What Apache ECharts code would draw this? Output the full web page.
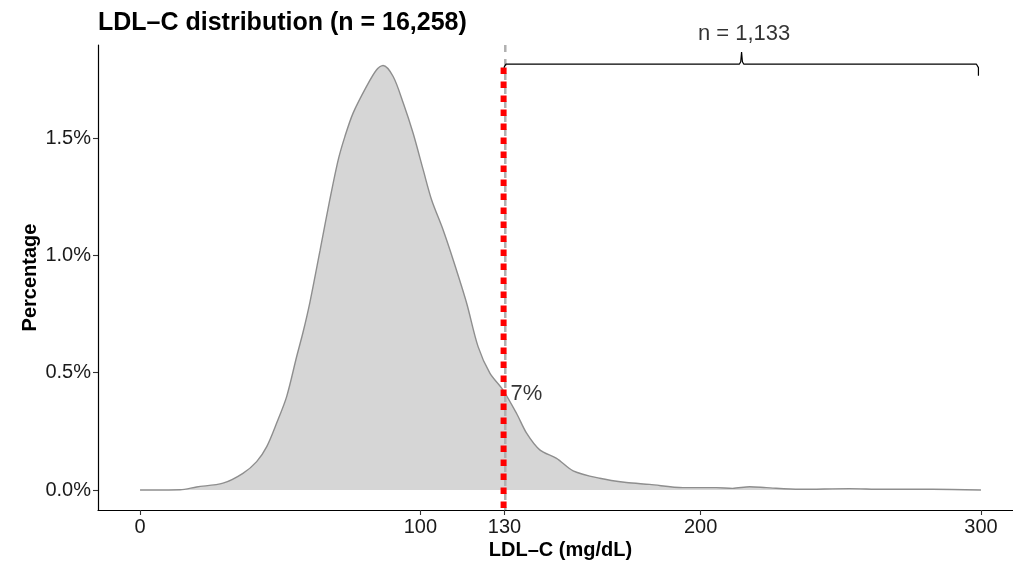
<!DOCTYPE html>
<html>
<head>
<meta charset="utf-8">
<script src="https://cdn.jsdelivr.net/npm/echarts@6/dist/echarts.min.js"></script>
<style>
html,body{margin:0;padding:0;background:#fff;}
#chart{width:1013px;height:567px;}
</style>
</head>
<body>
<div id="chart"></div>
<script>
// LDL-C values (mg/dL) and density (percentage)
const ldlValues = [0,14.3,20.2,29.6,36.7,41.6,45.2,48.7,52.3,55.9,58.1,60.6,64.2,67.7,70.7,73.1,76.0,80.8,84.4,86.7,90.3,93.9,97.4,101.0,104.0,108.1,111.7,116.5,120.6,124.8,129.5,134.3,137.9,142.6,148.6,154.5,164.0,173.5,181.8,193.7,205.6,211.4,217.5,223.4,235.3,253.1,264.9,282.7,300];
const densityPct = [0,0.001,0.013,0.029,0.071,0.121,0.185,0.284,0.398,0.57,0.67,0.80,1.02,1.237,1.407,1.507,1.606,1.72,1.791,1.809,1.762,1.649,1.521,1.365,1.237,1.109,0.981,0.797,0.611,0.498,0.426,0.327,0.242,0.171,0.135,0.082,0.050,0.032,0.024,0.010,0.010,0.007,0.014,0.010,0.003,0.006,0.003,0.003,0.0];
const xTicks = [0,100,130,200,300];
const yTicks = [0,0.5,1.0,1.5];
const cutoff = 130;
const peakPct = 1.80;
const aboveLabel = 'n = 1,133';
const aboveShare = '7%';
const titleText = 'LDL\u2013C distribution (n = 16,258)';
const xName = 'LDL\u2013C (mg/dL)';
const yName = 'Percentage';
// bracket over the range [cutoff, 300]
const bracketX = [129.8,130.5,213.8,214.3,214.6,214.9,215.4,298.4,299.1,299.1];
const bracketY = [1.800,1.8145,1.8145,1.825,1.866,1.825,1.8145,1.8145,1.800,1.765];

const X_MIN = -15, X_MAX = 315, Y_MIN = -0.0852, Y_MAX = 1.8963;
const FONT = '"Liberation Sans", Arial, Helvetica, sans-serif';

const chart = echarts.init(document.getElementById('chart'), null, {renderer:'canvas'});
const zip = (a,b) => a.map((v,i)=>[v,b[i]]);

chart.setOption({
  animation:false,
  backgroundColor:'#ffffff',
  textStyle:{fontFamily:FONT},
  title:{
    text:titleText, left:98, top:11, padding:0,
    textStyle:{fontFamily:FONT,fontSize:25,fontWeight:'bold',color:'#000'}
  },
  grid:{left:98,width:925,top:45,bottom:57,containLabel:false,outerBoundsMode:'none'},
  xAxis:{
    type:'value', min:X_MIN, max:X_MAX,
    name:xName, nameLocation:'middle', nameGap:30, nameMoveOverlap:false,
    nameTextStyle:{fontFamily:FONT,fontSize:20,fontWeight:'bold',color:'#000'},
    axisLine:{onZero:false,lineStyle:{color:'#000',width:1.2}},
    axisTick:{show:true,length:5,customValues:xTicks,lineStyle:{color:'#333',width:1.1}},
    axisLabel:{customValues:xTicks,fontSize:20,color:'#1a1a1a',margin:7,fontFamily:FONT},
    splitLine:{show:false}
  },
  yAxis:{
    type:'value', min:Y_MIN, max:Y_MAX,
    name:yName, nameLocation:'middle', nameGap:58, nameRotate:90, nameMoveOverlap:false,
    nameTextStyle:{fontFamily:FONT,fontSize:20,fontWeight:'bold',color:'#000'},
    axisLine:{onZero:false,lineStyle:{color:'#000',width:1.2}},
    axisTick:{show:true,length:5,customValues:yTicks,lineStyle:{color:'#333',width:1.1}},
    axisLabel:{customValues:yTicks,fontSize:20,color:'#1a1a1a',margin:7,fontFamily:FONT,
      formatter:v=>v.toFixed(1)+'%'},
    splitLine:{show:false}
  },
  series:[
    {
      type:'line', data:zip(ldlValues,densityPct), symbol:'none', smooth:0.3,
      lineStyle:{color:'#8e8e8e',width:1.4},
      areaStyle:{color:'#d6d6d6',opacity:1,origin:0},
      z:2, silent:true
    },
    {
      type:'line', data:[[cutoff+0.3,Y_MAX],[cutoff+0.3,Y_MIN]], symbol:'none',
      lineStyle:{color:'#b0b0b0',width:2.5,type:[7,7]}, z:3, silent:true
    },
    {
      type:'line', data:[[cutoff-0.3,peakPct],[cutoff-0.3,Y_MIN]], symbol:'none',
      lineStyle:{color:'#ff0000',width:6,type:[6.5,7.5],cap:'butt'}, z:4, silent:true
    },
    {
      type:'line', data:zip(bracketX,bracketY), symbol:'none', clip:false,
      lineStyle:{color:'#000',width:1.2}, z:5, silent:true
    },
    {
      type:'scatter', symbolSize:0, clip:false, silent:true, z:6,
      data:[
        {value:[215.5,1.943],label:{show:true,position:'inside',formatter:aboveLabel,fontSize:22,color:'#000',fontFamily:FONT}},
        {value:[132.2,0.409],label:{show:true,position:'right',distance:0,formatter:aboveShare,fontSize:22,color:'#000',fontFamily:FONT}}
      ]
    }
  ]
});
</script>
</body>
</html>
